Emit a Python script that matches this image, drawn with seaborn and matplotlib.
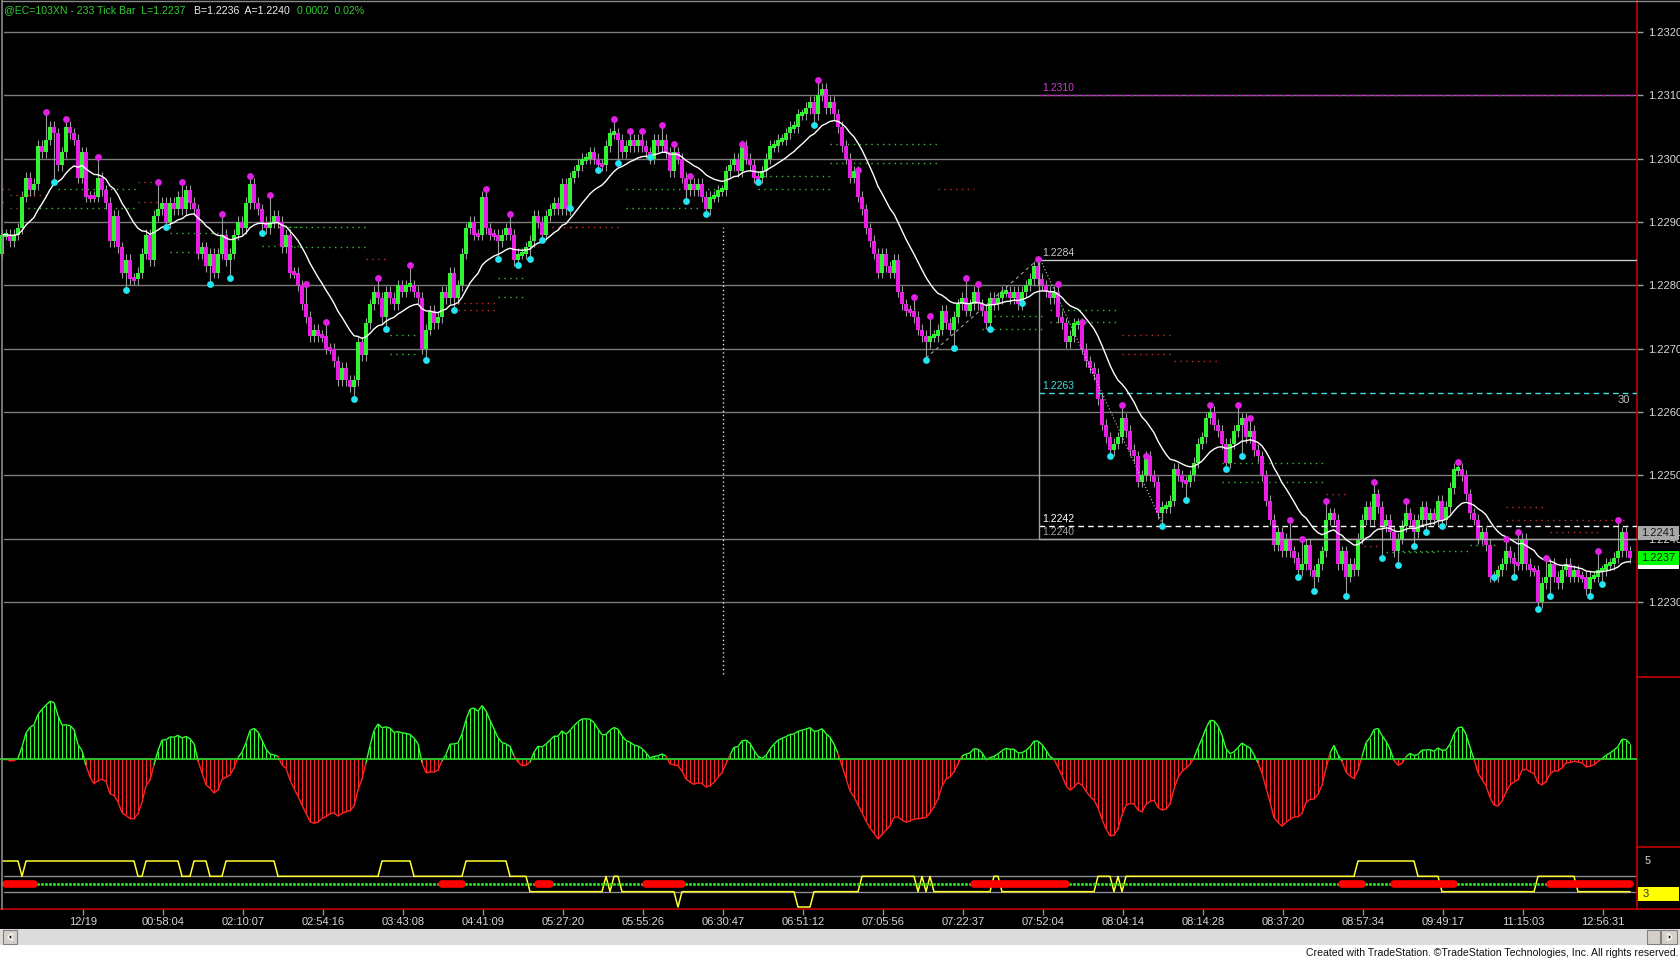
import numpy as np
import pandas as pd
import matplotlib
matplotlib.use("Agg")
import matplotlib.pyplot as plt
import seaborn as sns
from matplotlib.patches import Rectangle, Polygon
from matplotlib.lines import Line2D
from matplotlib.collections import LineCollection

W, H = 1680, 960
BASE = 1.2200  # price = BASE + pips / 10000

# ---------------- data (in pips above 1.2200) ----------------
first_open_pips = 85
close_pips = [
    # 12/19 ... 02:54
    88, 88, 87, 88, 89, 94, 97, 95, 96, 102, 101, 103, 105, 104, 99, 101, 105, 104, 103, 97,
    101, 94, 94, 94, 97, 95, 93, 87, 91, 86, 82, 84, 81, 81, 82, 85, 88, 84, 91, 92,
    93, 90, 93, 92, 94, 92, 95, 93, 92, 85, 86, 83, 85, 82, 85, 88, 84, 85, 88, 90,
    89, 93, 96, 93, 92, 90, 89, 90, 91, 90, 86, 88, 82, 82, 80,
    # 02:54 ... 05:27
    77, 75, 72, 73, 72, 72, 70, 70, 68, 65, 67, 65, 64, 65, 71, 69, 74, 77, 79, 78,
    75, 79, 78, 77, 80, 79, 80, 80, 79, 78, 70, 73, 76, 74, 75, 79, 78, 82, 78, 80,
    85, 89, 90, 88, 88, 94, 89, 88, 88, 87, 88, 89, 88, 84, 85, 85, 86, 87, 91, 90,
    88, 91, 92, 93, 92, 96, 92, 97, 98, 99,
    # 05:27 ... 07:05
    100, 100, 101, 100, 99, 99, 102, 104, 104, 103, 101, 102, 103, 102, 103, 102, 101, 100, 103, 102,
    103, 101, 98, 101, 100, 97, 95, 96, 95, 96, 94, 92, 94, 94, 95, 95, 98, 99, 100, 98,
    102, 100, 99, 97, 97, 98, 100, 102, 102, 103, 103, 104, 105, 105, 107, 107, 108, 109, 107, 110,
    111, 108, 109, 107, 105, 102, 100, 97, 98, 94,
    # 07:05 ... 08:04
    92, 89, 87, 85, 82, 85, 83, 82, 84, 79, 77, 76, 76, 75, 73, 72, 71, 72, 72, 73,
    76, 74, 73, 75, 77, 78, 76, 77, 79, 77, 76, 74, 78, 77, 78, 79, 79, 78, 79, 77,
    79, 80, 81, 83, 81, 80, 79, 78, 79, 75, 74, 71, 72, 74, 74, 70, 68, 67,
    # 08:04 ... 09:00
    66, 62, 58, 56, 54, 55, 56, 59, 57, 54, 53, 49, 50, 53, 50, 49, 44, 45, 45, 46,
    51, 50, 49, 49, 50, 52, 55, 56, 59, 60, 58, 57, 55, 52, 55, 57, 58, 59, 56, 57,
    54, 53, 50, 46, 43, 39, 41, 38, 40, 38,
    # 09:00 ... 10:30
    37, 35, 36, 39, 35, 34, 36, 38, 43, 44, 43, 36, 38, 34, 36, 35, 40, 43, 45, 43,
    47, 45, 42, 43, 41, 38, 40, 42, 44, 43, 41, 43, 45, 43, 44, 43, 46,
    # 10:30 ... end
    43, 45, 48, 51, 51, 50, 47, 44, 43, 40, 41, 39, 34, 34, 35, 36, 38, 37, 36, 36,
    40, 36, 35, 35, 30, 33, 34, 36, 34, 33, 35, 36, 34, 35, 34, 34, 32, 34, 34, 35,
    35, 36, 36, 37, 38, 41, 38, 37,
]

# swing-high markers (magenta) and swing-low markers (cyan): bar index, pips
high_dot_bar = [11, 16, 24, 39, 45, 55, 62, 67, 76, 81, 94, 102, 121, 127, 153, 157, 160, 165, 168, 172,
                185, 204, 214, 228, 232, 241, 244, 259, 264, 270, 280, 286, 302, 309, 312, 322, 325,
                331, 343, 351, 364, 376, 379, 386, 399, 404]
high_dot_pips = [107.3, 106.2, 100.2, 96.3, 96.3, 91.2, 97.2, 94.2, 80.2, 74.2, 81.2, 83.2, 95.2, 91.2,
                 106.2, 104.3, 104.3, 105.3, 102.3, 97.2, 102.3, 112.4, 98.2, 78.1, 75.1, 81.1, 80.2,
                 84.1, 80.2, 74.2, 61.1, 53.1, 61.1, 61.1, 59.0, 42.9, 39.9, 46.0, 49.0, 46.0, 52.1,
                 39.9, 41.0, 36.9, 38.0, 42.9]
low_dot_bar = [13, 31, 41, 52, 57, 65, 88, 96, 106, 113, 124, 129, 132, 135, 142, 149, 154, 162, 171, 176,
               189, 203, 231, 238, 247, 255, 277, 290, 296, 306, 310, 324, 328, 336, 345, 349, 353, 356,
               360, 373, 378, 384, 387, 397, 400]
low_dot_pips = [96.3, 79.2, 89.2, 80.2, 81.1, 88.2, 62.1, 73.1, 68.2, 76.1, 84.2, 83.2, 84.2, 87.2, 92.2,
                98.2, 99.3, 100.2, 93.3, 91.2, 96.3, 105.3, 68.2, 70.1, 73.1, 77.2, 53.1, 42.0, 46.1,
                51.0, 53.1, 33.9, 31.8, 30.9, 36.9, 35.9, 38.9, 41.0, 42.0, 33.9, 33.9, 28.9, 30.9,
                30.9, 32.9]

# dotted pivot levels: start bar, end bar, pips, colour key
piv_start = [0, 2, 0, 2, 14, 5, 34, 34, 42, 42, 69, 65, 70, 70, 91, 97, 97, 114, 114, 124, 124, 136,
             142, 156, 156, 189, 189, 207, 207, 234, 248, 245, 262, 262, 280, 280, 293, 305, 305, 331,
             339, 346, 350, 367, 376, 376, 387]
piv_end = [2, 12, 1, 4, 34, 34, 39, 39, 54, 48, 75, 75, 91, 91, 96, 104, 104, 124, 124, 131, 131, 144,
           155, 179, 174, 207, 207, 234, 234, 243, 261, 261, 279, 279, 293, 293, 304, 331, 331, 336,
           344, 359, 367, 374, 386, 406, 400]
piv_pips = [95.2, 94.2, 93.2, 92.2, 95.2, 92.2, 96.3, 93.2, 88.2, 85.2, 89.2, 86.2, 89.2, 86.1, 84.1,
            72.2, 69.2, 77.2, 76.1, 81.2, 78.1, 89.2, 89.2, 95.2, 92.2, 97.2, 95.2, 102.3, 99.3, 95.2,
            75.1, 73.1, 76.1, 74.2, 72.2, 69.1, 68.1, 52.0, 49.0, 47.0, 38.9, 37.9, 38.0, 39.0, 45.0,
            42.9, 41.0]
piv_kind = ['r', 'r', 'r', 'r', 'g', 'g', 'r', 'r', 'g', 'g', 'g', 'g', 'g', 'g', 'r', 'g', 'g', 'r', 'r',
            'g', 'g', 'r', 'r', 'g', 'g', 'g', 'g', 'g', 'g', 'r', 'g', 'g', 'g', 'g', 'r', 'r', 'r', 'g',
            'g', 'r', 'r', 'g', 'g', 'g', 'r', 'r', 'r']

# drawn levels from the 1.2284 high
level_start_bar = 259.25
level_pips = [110, 84, 63, 42, 40]
level_text = ['1.2310', '1.2284', '1.2263', '1.2242', '1.2240']

# trend lines: (bar0, pips0, bar1, pips1)
trend_bar0 = [231, 260]
trend_pip0 = [68.5, 83.5]
trend_bar1 = [259, 290]
trend_pip1 = [84.1, 42.5]

session_bar = 180.25

# lower study: yellow stepped line (run length, level) and red segments
yellow_levels = [5, 4, 5, 4, 5, 4, 5, 4, 5, 4, 5, 4, 5, 4, 3, 4, 3, 4, 3, 2, 3, 2, 3, 4, 3, 4, 3, 4, 3,
                 4, 3, 4, 3, 4, 3, 4, 5, 4, 3, 4, 3]
yellow_runs = [5, 1, 28, 2, 9, 3, 4, 4, 13, 26, 8, 13, 11, 5, 19, 1, 1, 2, 14, 1, 29, 4, 12, 14, 1, 1, 1, 1,
               15, 2, 24, 4, 1, 1, 1, 58, 15, 6, 24, 10, 14]
red_seg_start = [1, 110, 134, 161, 243, 335, 348, 387]
red_seg_end = [8, 115, 137, 170, 266, 340, 363, 407]

price_ticks = [1.2230, 1.2240, 1.2250, 1.2260, 1.2270, 1.2280, 1.2290, 1.2300, 1.2310, 1.2320]
time_labels = ['12/19', '00:58:04', '02:10:07', '02:54:16', '03:43:08', '04:41:09', '05:27:20',
               '05:55:26', '06:30:47', '06:51:12', '07:05:56', '07:22:37', '07:52:04', '08:04:14',
               '08:14:28', '08:37:20', '08:57:34', '09:49:17', '11:15:03', '12:56:31']

# ---------------- styling ----------------
sns.set_theme(style="dark")
plt.rcParams['font.family'] = ['Liberation Sans', 'DejaVu Sans']
plt.rcParams['axes.facecolor'] = 'black'

GREEN = '#2ef52e'
MAG = '#e61ee6'
WICK = '#9a9a9a'
GRID = '#7c7c7c'
AXRED = '#c40000'
TXT = '#d8d8d8'


def P(v):
    return BASE + np.asarray(v, float) / 10000.0


def fa(x0, y0, x1, y1):
    return [x0 / W, 1 - y1 / H, (x1 - x0) / W, (y1 - y0) / H]


fig = plt.figure(figsize=(W / 100, H / 100), dpi=100, facecolor='black')
ax_main = fig.add_axes(fa(0, 0, 1637, 677))
ax_osc = fig.add_axes(fa(0, 677, 1637, 847))
ax_bot = fig.add_axes(fa(0, 847, 1637, 909))

n = len(close_pips)
idx = np.arange(n)
XL = (-0.5, 408.75)
for ax in (ax_main, ax_osc, ax_bot):
    ax.set_facecolor('black')
    ax.set_xlim(*XL)
    for s in ax.spines.values():
        s.set_visible(False)
    ax.spines['right'].set_visible(True)
    ax.spines['right'].set_color(AXRED)
    ax.spines['right'].set_linewidth(1.2)
    ax.grid(False)

# ---------------- main price panel ----------------
ax_main.set_ylim(P(18.15), P(125.05))
for t in price_ticks:
    ax_main.axhline(t, xmin=4 / 1637, xmax=1, color=GRID, lw=1, zorder=1)
ax_main.yaxis.tick_right()
ax_main.set_yticks(price_ticks)
ax_main.set_yticklabels([f'{t:.4f}' for t in price_ticks])
ax_main.tick_params(axis='y', colors='#a0a0a0', labelcolor=TXT, length=4, width=1, pad=4, labelsize=8)
ax_main.tick_params(axis='x', bottom=False, labelbottom=False)

close = np.array(close_pips, float)
opens = np.concatenate([[first_open_pips], close[:-1]])
cols = []
prev = GREEN
for o, c in zip(opens, close):
    if c > o:
        prev = GREEN
    elif c < o:
        prev = MAG
    cols.append(prev)
lo = np.minimum(opens, close)
hi = np.maximum(opens, close)
flat = (hi - lo) < 0.6
body_bot = np.where(flat, (lo + hi) / 2 - 0.3, lo)
body_h = np.where(flat, 0.6, hi - lo)

ax_main.vlines(idx, P(lo - 0.9), P(hi + 0.9), color=WICK, lw=0.8, zorder=2)
ax_main.bar(idx, body_h / 10000.0, bottom=P(body_bot), width=0.95, color=cols, lw=0, zorder=3)

# swing markers with stems
hb = np.array(high_dot_bar)
lb = np.array(low_dot_bar)
ax_main.vlines(hb, P(hi[hb]), P(high_dot_pips), color=WICK, lw=0.8, zorder=2)
ax_main.vlines(lb, P(low_dot_pips), P(lo[lb]), color=WICK, lw=0.8, zorder=2)
sns.scatterplot(x=hb, y=P(high_dot_pips), color='#e020e0', s=24, linewidth=0, ax=ax_main, zorder=6)
sns.scatterplot(x=lb, y=P(low_dot_pips), color='#22e4f2', s=24, linewidth=0, ax=ax_main, zorder=6)

# moving average
ma = pd.Series(close).ewm(span=18, adjust=False).mean().values
sns.lineplot(x=idx, y=P(ma), color='white', lw=1.0, ax=ax_main, zorder=5, legend=False)

# pivot dotted levels
for s, e, v, k in zip(piv_start, piv_end, piv_pips, piv_kind):
    ax_main.plot([s, e], [P(v), P(v)], color='#3dbf3d' if k == 'g' else '#c43030',
                 lw=1, ls=(0, (1, 3.2)), zorder=2)

# level lines
lvl_style = [('#c020c0', (0, (3, 2)), '#d040d0'), ('#c8c8c8', '-', '#c8c8c8'),
             ('#40dede', (0, (4, 3)), '#40dede'), ('#ffffff', (0, (4, 3)), '#ffffff'),
             ('#a8a8a8', '-', '#a0a0a0')]
for v, (lc, ls, tc) in zip(level_pips, lvl_style):
    ax_main.plot([level_start_bar, XL[1]], [P(v), P(v)], color=lc, ls=ls, lw=1, zorder=4)
for v, txt, (lc, ls, tc) in zip(level_pips, level_text, lvl_style):
    if txt == '1.2240':
        ax_main.text(level_start_bar + 0.8, P(v + 1.0), txt, color=tc, fontsize=7.5,
                     va='center', ha='left', zorder=7)
    else:
        ax_main.text(level_start_bar + 0.8, P(v + 0.3), txt, color=tc, fontsize=7.5,
                     va='bottom', ha='left', zorder=7)
ax_main.plot([level_start_bar, level_start_bar], [P(40), P(84)], color='#a0a0a0', lw=1, zorder=4)
ax_main.text(407.0, P(62.6), '30', color='#c0c0c0', fontsize=8, ha='right', va='top', zorder=7)

# trend lines
ax_main.plot([trend_bar0[0], trend_bar1[0]], [P(trend_pip0[0]), P(trend_pip1[0])],
             color='#a0a0a0', lw=0.8, ls=(0, (3, 3)), zorder=4)
ax_main.plot([trend_bar0[1], trend_bar1[1]], [P(trend_pip0[1]), P(trend_pip1[1])],
             color='#c8c8c8', lw=0.8, ls=(0, (1, 2)), zorder=4)

# session marker
ax_main.plot([session_bar, session_bar], [P(18.6), P(89.2)], color='#e6e6a0', lw=1,
             ls=(0, (1, 2)), zorder=4)

# ---------------- oscillator panel ----------------
cs = pd.Series(close)
macd = cs.ewm(span=3, adjust=False).mean() - cs.ewm(span=12, adjust=False).mean()
osc = macd.ewm(span=3, adjust=False).mean().values
scale = np.abs(osc).max() / 80.0
ax_osc.set_ylim(-88 * scale, 82 * scale)
ax_osc.set_yticks([])
ax_osc.set_xticks([])
ocol = np.where(osc >= 0, '#33ff33', '#ff2424')
ax_osc.vlines(idx, 0, osc, colors=ocol, lw=0.8, zorder=2)
segs = [[(idx[i], osc[i]), (idx[i + 1], osc[i + 1])] for i in range(n - 1)]
scol = ['#33ff33' if (osc[i] + osc[i + 1]) >= 0 else '#ff2424' for i in range(n - 1)]
ax_osc.add_collection(LineCollection(segs, colors=scol, lw=1.0, zorder=3))
ax_osc.axhline(0, color='#2fd02f', lw=1.3, zorder=4)

# ---------------- lower study panel ----------------
ax_bot.set_ylim(1.87, 5.913)
ax_bot.set_yticks([])
for lv in (4, 3):
    ax_bot.axhline(lv, xmin=4 / 1637, color='#8a8a8a', lw=1, zorder=1)
yl = np.repeat(yellow_levels, yellow_runs)[:n]
sns.lineplot(x=idx, y=yl, color='#ffff30', lw=1.1, ax=ax_bot, zorder=3, legend=False)
red_mask = np.zeros(n, bool)
for s, e in zip(red_seg_start, red_seg_end):
    red_mask[s:e + 1] = True
    ax_bot.plot([s, e], [3.5, 3.5], color='#ff0000', lw=5.5, solid_capstyle='round', zorder=5)
sns.scatterplot(x=idx[~red_mask], y=np.full((~red_mask).sum(), 3.5), color='#22dd22', s=5,
                linewidth=0, ax=ax_bot, zorder=4)
ax_bot.spines['bottom'].set_visible(True)
ax_bot.spines['bottom'].set_color(AXRED)
ax_bot.spines['bottom'].set_linewidth(1.2)
tick_pos = [20.25 + 20 * k for k in range(len(time_labels))]
ax_bot.set_xticks(tick_pos)
ax_bot.set_xticklabels(time_labels)
ax_bot.tick_params(axis='x', colors='#909090', labelcolor=TXT, length=4, width=1, pad=2, labelsize=8,
                   bottom=True)
ax_bot.set_xlabel('')
ax_bot.set_ylabel('')
ax_main.set_xlabel('')
ax_main.set_ylabel('')

# ---------------- figure-level furniture ----------------
def fl(x0, y0, x1, y1, **kw):
    fig.add_artist(Line2D([x0 / W, x1 / W], [1 - y0 / H, 1 - y1 / H], **kw))

fl(2, 0, 2, 909, color='#8a8a8a', lw=1.2)
fl(2, 1, 1680, 1, color='#8a8a8a', lw=1)
fl(1637, 677, 1680, 677, color=AXRED, lw=1.2)
fl(1637, 847, 1680, 847, color=AXRED, lw=1.2)
fl(1637, 909, 1680, 909, color=AXRED, lw=1.2)

def frect(x0, y0, x1, y1, **kw):
    fig.add_artist(Rectangle((x0 / W, 1 - y1 / H), (x1 - x0) / W, (y1 - y0) / H,
                             transform=fig.transFigure, **kw))

# price boxes on the axis
frect(1638, 526, 1679, 540, facecolor='#a8a8a8', edgecolor='none')
fig.text(1641 / W, 1 - 533.5 / H, '1.2241', color='#1a1a1a', fontsize=8, va='center')
frect(1638, 551, 1679, 565, facecolor='#00ff00', edgecolor='none')
frect(1638, 565, 1679, 569, facecolor='#ffffff', edgecolor='none')
fig.text(1641 / W, 1 - 558 / H, '1.2237', color='#1a1a1a', fontsize=8, va='center')

# lower study axis labels
fig.text(1645 / W, 1 - 861 / H, '5', color=TXT, fontsize=8, va='center')
frect(1638, 887, 1679, 901, facecolor='#ffff00', edgecolor='none')
fig.text(1643 / W, 1 - 894 / H, '3', color='#333333', fontsize=8, va='center')

# title
fig.text(4 / W, 1 - 10.5 / H, '@EC=103XN - 233 Tick Bar  L=1.2237', color='#33cc33', fontsize=7.6,
         va='center')
fig.text(194 / W, 1 - 10.5 / H, 'B=1.2236  A=1.2240', color='#f0f0f0', fontsize=7.6, va='center')
fig.text(297 / W, 1 - 10.5 / H, '0.0002  0.02%', color='#33cc33', fontsize=7.6, va='center')

# scroll bar and footer
frect(0, 929, 1680, 945, facecolor='#dcdcdc', edgecolor='none')
frect(0, 945, 1680, 960, facecolor='#ffffff', edgecolor='none')
frect(3, 930, 17, 944, facecolor='#d4d0c8', edgecolor='#808080', lw=0.8)
fig.add_artist(Polygon([[8 / W, 1 - 937 / H], [12 / W, 1 - 933.5 / H], [12 / W, 1 - 940.5 / H]],
                       closed=True, transform=fig.transFigure, facecolor='black'))
frect(1647, 930, 1660, 944, facecolor='#d4d0c8', edgecolor='#808080', lw=0.8)
frect(1661, 930, 1677, 944, facecolor='#d4d0c8', edgecolor='#808080', lw=0.8)
fig.add_artist(Polygon([[1672 / W, 1 - 937 / H], [1668 / W, 1 - 933.5 / H], [1668 / W, 1 - 940.5 / H]],
                       closed=True, transform=fig.transFigure, facecolor='black'))
fig.text(1679 / W, 1 - 953 / H,
         'Created with TradeStation. \u00a9TradeStation Technologies, Inc. All rights reserved.',
         color='#111111', fontsize=7.6, ha='right', va='center')

fig.savefig('out.png', dpi=100, facecolor='black')
